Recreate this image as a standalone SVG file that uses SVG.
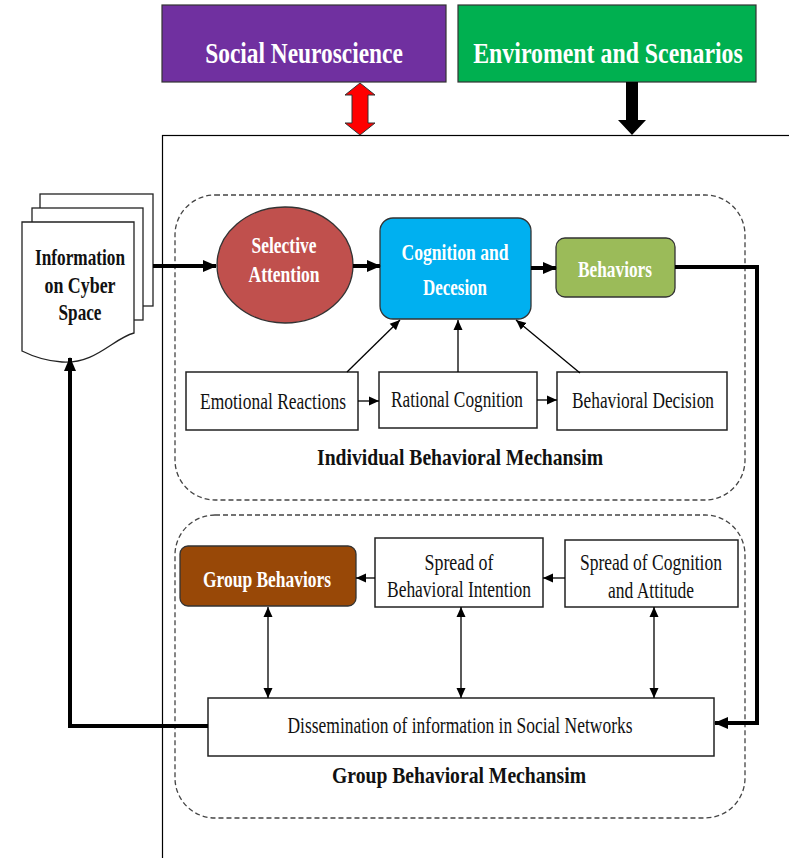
<svg xmlns="http://www.w3.org/2000/svg" width="789" height="858" viewBox="0 0 789 858">
  <defs>
    <style>
      .frame { fill: #fff; stroke: #000; stroke-width: 1.2; }
      .group { fill: none; stroke: #444; stroke-width: 1.3; stroke-dasharray: 5 3; }
      .box { fill: #fff; stroke: #222; stroke-width: 1.5; }
      .page { fill: #fff; stroke: #222; stroke-width: 1.3; }
      .thick { fill: none; stroke: #000; stroke-width: 4; }
      .thin { fill: none; stroke: #000; stroke-width: 1.3; }
      .title { font-family: "Liberation Serif", "Times New Roman", serif; font-weight: bold; font-size: 30px; fill: #fff; text-anchor: middle; }
      .wlabel { font-family: "Liberation Serif", "Times New Roman", serif; font-weight: bold; font-size: 24px; fill: #fff; text-anchor: middle; }
      .blabel { font-family: "Liberation Serif", "Times New Roman", serif; font-weight: bold; font-size: 24px; fill: #111; text-anchor: middle; }
      .label { font-family: "Liberation Serif", "Times New Roman", serif; font-size: 24px; fill: #111; text-anchor: middle; }
    </style>
    <marker id="headThick" markerUnits="userSpaceOnUse" markerWidth="14" markerHeight="14" viewBox="0 0 14 14" refX="13" refY="7" orient="auto">
      <path d="M0,1 L14,7 L0,13 Z" fill="#000"/>
    </marker>
    <marker id="headThin" markerUnits="userSpaceOnUse" markerWidth="10" markerHeight="10" viewBox="0 0 10 10" refX="10" refY="5" orient="auto">
      <path d="M0,0.5 L10,5 L0,9.5 Z" fill="#000"/>
    </marker>
    <marker id="tailThin" markerUnits="userSpaceOnUse" markerWidth="10" markerHeight="10" viewBox="0 0 10 10" refX="0" refY="5" orient="auto">
      <path d="M10,0.5 L0,5 L10,9.5 Z" fill="#000"/>
    </marker>
  </defs>

  <rect width="789" height="858" fill="#fff"/>

  <!-- outer frame (runs past the right and bottom edges) -->
  <rect class="frame" x="162.5" y="135.5" width="660" height="760"/>

  <!-- dashed mechanism groups -->
  <rect class="group" x="175" y="195" width="570" height="305" rx="40"/>
  <rect class="group" x="175" y="515" width="570" height="303" rx="40"/>

  <!-- top context boxes -->
  <g id="social-neuroscience">
    <rect x="162" y="5" width="284" height="77" fill="#7030A0" stroke="#333" stroke-width="1.2"/>
    <text class="title" transform="translate(304 63) scale(0.8 1)" x="0" y="0" textLength="247" lengthAdjust="spacingAndGlyphs">Social Neuroscience</text>
  </g>
  <g id="environment-scenarios">
    <rect x="458" y="5" width="298" height="77" fill="#00B050" stroke="#333" stroke-width="1.2"/>
    <text class="title" transform="translate(608 63) scale(0.8 1)" x="0" y="0" textLength="337" lengthAdjust="spacingAndGlyphs">Enviroment and Scenarios</text>
  </g>

  <!-- information document stack -->
  <g id="information-cyber-space">
    <rect class="page" x="40" y="194" width="113" height="112"/>
    <rect class="page" x="32" y="208" width="111" height="112"/>
    <path class="page" d="M22,222 H134 V333 C112,339 96,364 62,362 C46,361 32,356 22,351 Z"/>
    <text class="blabel" x="80" y="265" textLength="90" lengthAdjust="spacingAndGlyphs">Information</text>
    <text class="blabel" x="80" y="293" textLength="71" lengthAdjust="spacingAndGlyphs">on Cyber</text>
    <text class="blabel" x="80" y="320" textLength="43" lengthAdjust="spacingAndGlyphs">Space</text>
  </g>

  <!-- individual mechanism nodes -->
  <g id="selective-attention">
    <ellipse cx="285" cy="265" rx="68" ry="58" fill="#C0504D" stroke="#333" stroke-width="1.3"/>
    <text class="wlabel" x="284" y="253" textLength="65" lengthAdjust="spacingAndGlyphs">Selective</text>
    <text class="wlabel" x="284" y="282" textLength="71" lengthAdjust="spacingAndGlyphs">Attention</text>
  </g>
  <g id="cognition-decision">
    <rect x="380" y="218" width="151" height="101" rx="13" fill="#00B0F0" stroke="#333" stroke-width="1.3"/>
    <text class="wlabel" x="455" y="260" textLength="107" lengthAdjust="spacingAndGlyphs">Cognition and</text>
    <text class="wlabel" x="455" y="295" textLength="64" lengthAdjust="spacingAndGlyphs">Decesion</text>
  </g>
  <g id="behaviors">
    <rect x="556" y="238" width="119" height="59" rx="9" fill="#9BBB59" stroke="#333" stroke-width="1.3"/>
    <text class="wlabel" x="615" y="277" textLength="74" lengthAdjust="spacingAndGlyphs">Behaviors</text>
  </g>
  <g id="emotional-reactions">
    <rect class="box" x="186" y="372" width="172" height="58"/>
    <text class="label" x="273" y="409" textLength="146" lengthAdjust="spacingAndGlyphs">Emotional Reactions</text>
  </g>
  <g id="rational-cognition">
    <rect class="box" x="379" y="372" width="158" height="56"/>
    <text class="label" x="457" y="407" textLength="132" lengthAdjust="spacingAndGlyphs">Rational Cognition</text>
  </g>
  <g id="behavioral-decision">
    <rect class="box" x="557" y="372" width="170" height="58"/>
    <text class="label" x="643" y="408" textLength="142" lengthAdjust="spacingAndGlyphs">Behavioral Decision</text>
  </g>
  <text class="blabel" x="460" y="465" textLength="286" lengthAdjust="spacingAndGlyphs">Individual Behavioral Mechansim</text>

  <!-- group mechanism nodes -->
  <g id="group-behaviors">
    <rect x="180" y="546" width="176" height="60" rx="8" fill="#984807" stroke="#333" stroke-width="1.3"/>
    <text class="wlabel" x="267" y="587" textLength="128" lengthAdjust="spacingAndGlyphs">Group Behaviors</text>
  </g>
  <g id="spread-intention">
    <rect class="box" x="375" y="538" width="168" height="69"/>
    <text class="label" x="459" y="570" textLength="69" lengthAdjust="spacingAndGlyphs">Spread of</text>
    <text class="label" x="459" y="597" textLength="144" lengthAdjust="spacingAndGlyphs">Behavioral Intention</text>
  </g>
  <g id="spread-cognition">
    <rect class="box" x="565" y="540" width="173" height="67"/>
    <text class="label" x="651" y="570" textLength="142" lengthAdjust="spacingAndGlyphs">Spread of Cognition</text>
    <text class="label" x="651" y="598" textLength="86" lengthAdjust="spacingAndGlyphs">and Attitude</text>
  </g>
  <g id="dissemination">
    <rect class="box" x="208" y="698" width="506" height="58"/>
    <text class="label" x="460" y="733" textLength="345" lengthAdjust="spacingAndGlyphs">Dissemination of information in Social Networks</text>
  </g>
  <text class="blabel" x="459" y="783" textLength="254" lengthAdjust="spacingAndGlyphs">Group Behavioral Mechansim</text>

  <!-- connectors -->
  <g id="connectors">
    <!-- block arrows from the context boxes -->
    <path d="M360,83 L375,95 L368,95 L368,123 L375,123 L360,135 L345,123 L352,123 L352,95 L345,95 Z" fill="#FF0000" stroke="#333" stroke-width="1"/>
    <path d="M626,82 L638,82 L638,120 L646,120 L632,135 L618,120 L626,120 Z" fill="#000"/>

    <!-- main flow -->
    <line class="thick" x1="153" y1="266" x2="216" y2="266" marker-end="url(#headThick)"/>
    <line class="thick" x1="353" y1="266" x2="380" y2="266" marker-end="url(#headThick)"/>
    <line class="thick" x1="531" y1="268" x2="556" y2="268" marker-end="url(#headThick)"/>
    <polyline class="thick" points="675,267 757,267 757,723 715,723" marker-end="url(#headThick)"/>
    <polyline class="thick" points="208,726 70,726 70,358" marker-end="url(#headThick)"/>

    <!-- inputs to cognition and decision -->
    <line class="thin" x1="347" y1="372" x2="400" y2="320" marker-end="url(#headThin)"/>
    <line class="thin" x1="458" y1="372" x2="458" y2="320" marker-end="url(#headThin)"/>
    <line class="thin" x1="580" y1="373" x2="516" y2="320" marker-end="url(#headThin)"/>

    <!-- individual chain -->
    <line class="thin" x1="358" y1="401" x2="379" y2="401" marker-end="url(#headThin)"/>
    <line class="thin" x1="537" y1="400" x2="557" y2="400" marker-end="url(#headThin)"/>

    <!-- group chain -->
    <line class="thin" x1="375" y1="578" x2="356" y2="578" marker-end="url(#headThin)"/>
    <line class="thin" x1="565" y1="578" x2="543" y2="578" marker-end="url(#headThin)"/>

    <!-- exchanges with dissemination -->
    <line class="thin" x1="268" y1="607" x2="268" y2="698" marker-start="url(#tailThin)" marker-end="url(#headThin)"/>
    <line class="thin" x1="461" y1="607" x2="461" y2="698" marker-start="url(#tailThin)" marker-end="url(#headThin)"/>
    <line class="thin" x1="654" y1="607" x2="654" y2="698" marker-start="url(#tailThin)" marker-end="url(#headThin)"/>
  </g>
</svg>
